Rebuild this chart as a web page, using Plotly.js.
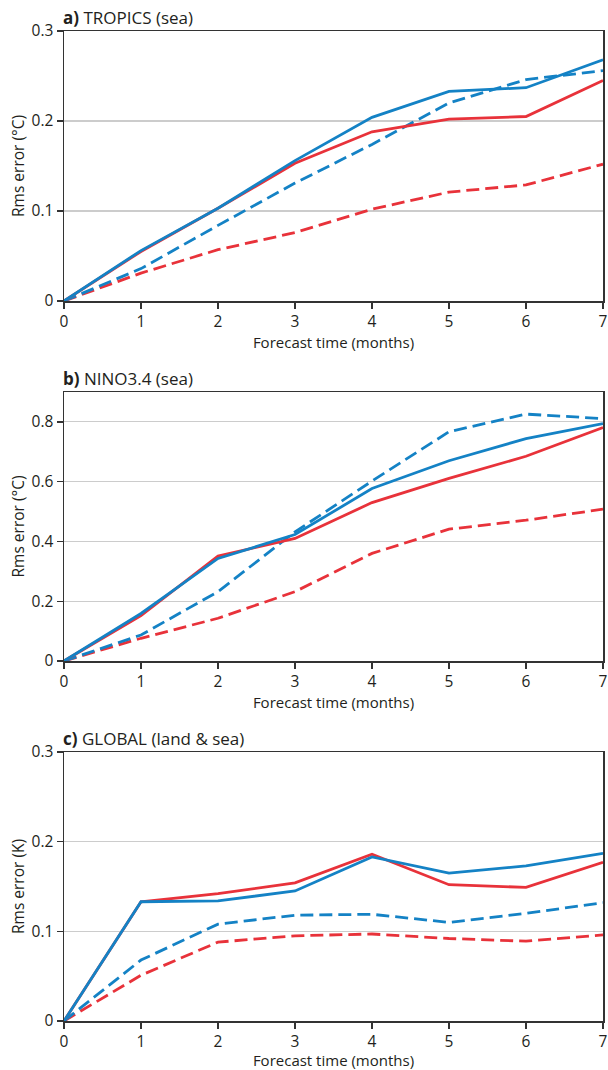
<!DOCTYPE html>
<html>
<head>
<meta charset="utf-8">
<script src="https://cdn.plot.ly/plotly-3.0.1.min.js"></script>
<style>html,body{margin:0;padding:0;background:#fff}#chart{width:608px;height:1070px}</style>
</head>
<body>
<div id="chart"></div>
<script>
const months = [0, 1, 2, 3, 4, 5, 6, 7];
const xTicks = [0, 1, 2, 3, 4, 5, 6, 7];

// Panel a: TROPICS (sea)
const tropicsBlueSolid = [0, 0.056, 0.103, 0.156, 0.204, 0.233, 0.237, 0.268];
const tropicsRedSolid  = [0, 0.055, 0.103, 0.153, 0.188, 0.202, 0.205, 0.245];
const tropicsBlueDash  = [0, 0.036, 0.084, 0.131, 0.174, 0.220, 0.246, 0.256];
const tropicsRedDash   = [0, 0.031, 0.057, 0.076, 0.102, 0.121, 0.129, 0.152];

// Panel b: NINO3.4 (sea)
const ninoBlueSolid = [0, 0.159, 0.343, 0.423, 0.577, 0.670, 0.744, 0.794];
const ninoRedSolid  = [0, 0.152, 0.351, 0.410, 0.530, 0.611, 0.685, 0.781];
const ninoBlueDash  = [0, 0.087, 0.232, 0.432, 0.602, 0.767, 0.826, 0.811];
const ninoRedDash   = [0, 0.076, 0.143, 0.232, 0.360, 0.441, 0.471, 0.508];

// Panel c: GLOBAL (land & sea)
const globalBlueSolid = [0, 0.133, 0.134, 0.145, 0.183, 0.165, 0.173, 0.187];
const globalRedSolid  = [0, 0.133, 0.142, 0.154, 0.186, 0.152, 0.149, 0.177];
const globalBlueDash  = [0, 0.068, 0.108, 0.118, 0.119, 0.110, 0.120, 0.132];
const globalRedDash   = [0, 0.051, 0.088, 0.095, 0.097, 0.092, 0.089, 0.096];

const panelTitles = ['<b>a)</b> TROPICS (sea)', '<b>b)</b> NINO3.4 (sea)', '<b>c)</b> GLOBAL (land &amp; sea)'];
const yTitles = ['Rms error (°C)', 'Rms error (°C)', 'Rms error (K)'];
const xTitle = 'Forecast time (months)';
const yTicksA = [0, 0.1, 0.2, 0.3];
const yTickTextA = ['0', '0.1', '0.2', '0.3'];
const yTicksB = [0, 0.2, 0.4, 0.6, 0.8];
const yTickTextB = ['0', '0.2', '0.4', '0.6', '0.8'];
const yTicksC = [0, 0.1, 0.2, 0.3];
const yTickTextC = ['0', '0.1', '0.2', '0.3'];

const BLUE = '#1482c5';
const RED = '#e8323a';
const FONT = 'Open Sans, Noto Sans, sans-serif';
const TXT = '#231f20';

function tr(y, color, dashed, ax) {
  return {
    x: months, y: y, type: 'scatter', mode: 'lines',
    xaxis: 'x' + ax, yaxis: 'y' + ax,
    line: {color: color, width: 2.8, dash: dashed ? '13px,6px' : 'solid'},
    hoverinfo: 'skip', showlegend: false
  };
}

const data = [
  tr(tropicsRedDash, RED, true, ''), tr(tropicsBlueDash, BLUE, true, ''),
  tr(tropicsRedSolid, RED, false, ''), tr(tropicsBlueSolid, BLUE, false, ''),
  tr(ninoRedDash, RED, true, '2'), tr(ninoBlueDash, BLUE, true, '2'),
  tr(ninoRedSolid, RED, false, '2'), tr(ninoBlueSolid, BLUE, false, '2'),
  tr(globalRedDash, RED, true, '3'), tr(globalBlueDash, BLUE, true, '3'),
  tr(globalRedSolid, RED, false, '3'), tr(globalBlueSolid, BLUE, false, '3')
];

const H = 990;
const domA = [(1021 - 301) / H, 1];
const domB = [(1021 - 661) / H, (1021 - 392) / H];
const domC = [0, (1021 - 752) / H];

function xax(anchor) {
  return {
    anchor: anchor, domain: [0, 1], range: [0, 7], tickvals: xTicks,
    ticks: 'outside', ticklen: 6, tickwidth: 1.3, tickcolor: '#333',
    showline: true, linecolor: '#333', linewidth: 1.5, mirror: true,
    showgrid: false, zeroline: false,
    tickfont: {family: FONT, size: 15.5, color: TXT},
    title: {text: xTitle, standoff: 3, font: {family: FONT, size: 15, color: TXT}}
  };
}
function yax(anchor, dom, range, vals, txt, title) {
  return {
    anchor: anchor, domain: dom, range: range, tickvals: vals, ticktext: txt,
    ticks: 'outside', ticklen: 6, tickwidth: 1.3, tickcolor: '#333',
    showline: true, linecolor: '#333', linewidth: 1.5, mirror: true,
    showgrid: true, gridcolor: '#cccccc', gridwidth: 1.2, zeroline: false,
    tickfont: {family: FONT, size: 15.5, color: TXT},
    title: {text: title, standoff: 3, font: {family: FONT, size: 15.5, color: TXT}}
  };
}

const layout = {
  width: 608, height: 1070,
  margin: {l: 64, r: 5, t: 31, b: 49},
  paper_bgcolor: '#fff', plot_bgcolor: '#fff',
  font: {family: FONT, color: TXT},
  xaxis: xax('y'), yaxis: yax('x', domA, [0, 0.3], yTicksA, yTickTextA, yTitles[0]),
  xaxis2: xax('y2'), yaxis2: yax('x2', domB, [0, 0.9], yTicksB, yTickTextB, yTitles[1]),
  xaxis3: xax('y3'), yaxis3: yax('x3', domC, [0, 0.3], yTicksC, yTickTextC, yTitles[2]),
  annotations: [
    {text: panelTitles[0], xref: 'paper', yref: 'paper', x: 0, y: domA[1], xanchor: 'left', yanchor: 'bottom', yshift: 0, xshift: -3, showarrow: false, font: {family: FONT, size: 17, color: TXT}},
    {text: panelTitles[1], xref: 'paper', yref: 'paper', x: 0, y: domB[1], xanchor: 'left', yanchor: 'bottom', yshift: 0, xshift: -3, showarrow: false, font: {family: FONT, size: 17, color: TXT}},
    {text: panelTitles[2], xref: 'paper', yref: 'paper', x: 0, y: domC[1], xanchor: 'left', yanchor: 'bottom', yshift: 0, xshift: -3, showarrow: false, font: {family: FONT, size: 17, color: TXT}}
  ]
};

Plotly.newPlot('chart', data, layout, {staticPlot: true, displayModeBar: false});
</script>
</body>
</html>
